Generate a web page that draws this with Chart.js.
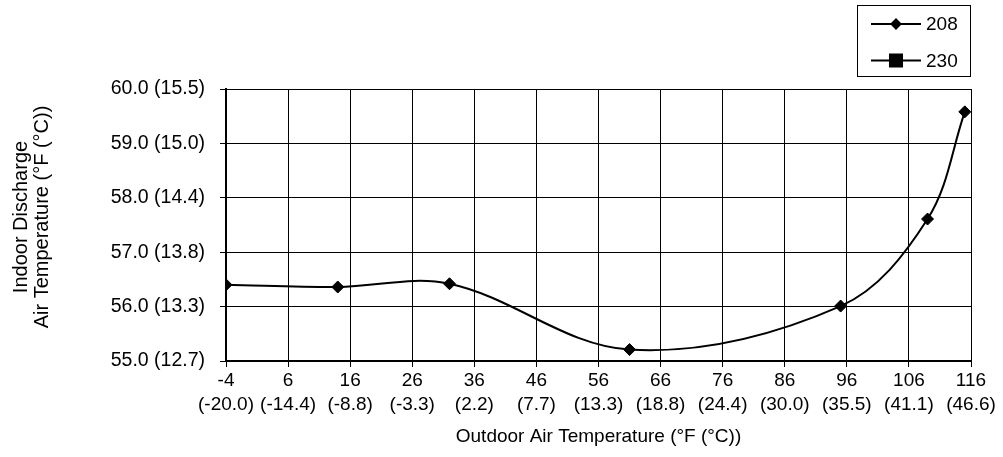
<!DOCTYPE html>
<html>
<head>
<meta charset="utf-8">
<script src="https://cdn.jsdelivr.net/npm/chart.js@4.4.1/dist/chart.umd.min.js"></script>
<style>
  html, body { margin: 0; padding: 0; background: #fff; }
  #wrap { width: 1003px; height: 457px; }
</style>
</head>
<body>
<div id="wrap"><canvas id="dischargeChart" width="1003" height="457"></canvas></div>
<script>
// outdoor air temp (F) vs indoor discharge temp (F)
const outdoorTemps = [-4, 14, 32, 61, 95, 109, 115];
const discharge208 = [56.40, 56.36, 56.42, 55.21, 56.01, 57.61, 59.58];
const outdoor230 = [];
const discharge230 = [];

const xTicksF = [-4, 6, 16, 26, 36, 46, 56, 66, 76, 86, 96, 106, 116];
const xTicksC = ["-20.0", "-14.4", "-8.8", "-3.3", "2.2", "7.7", "13.3", "18.8", "24.4", "30.0", "35.5", "41.1", "46.6"];
const yTicksF = [55, 56, 57, 58, 59, 60];
const yTicksC = ["12.7", "13.3", "13.8", "14.4", "15.0", "15.5"];
const yTitleLines = ["Indoor Discharge", "Air Temperature (°F (°C))"];

const fontFamily = "'Liberation Sans', Arial, sans-serif";

function toPoints(xs, ys) {
  return xs.map((x, i) => ({ x: x, y: ys[i] }));
}

// boxed legend in the top right corner + the y title (sits a bit above centre in the original)
const extras = {
  id: "extras",
  afterDraw(chart) {
    const ctx = chart.ctx;
    ctx.save();
    ctx.strokeStyle = "#000";
    ctx.fillStyle = "#000";
    ctx.lineWidth = 1;
    ctx.strokeRect(857.5, 5.5, 113, 71);
    chart.data.datasets.forEach(function (ds, i) {
      const y = 24 + i * 36.5;
      ctx.lineWidth = 2;
      ctx.beginPath();
      ctx.moveTo(871, y);
      ctx.lineTo(921, y);
      ctx.stroke();
      Chart.helpers.drawPoint(ctx, {
        pointStyle: ds.pointStyle,
        radius: i === 0 ? 4.5 : 8.5,
        borderWidth: 1,
      }, 896, y);
      ctx.font = "19px " + fontFamily;
      ctx.textBaseline = "middle";
      ctx.textAlign = "left";
      ctx.fillText(ds.label, 926, y + 1);
    });

    ctx.translate(0, 217);
    ctx.rotate(-Math.PI / 2);
    ctx.font = "20px " + fontFamily;
    ctx.textAlign = "center";
    ctx.textBaseline = "middle";
    yTitleLines.forEach(function (line, i) {
      ctx.fillText(line, 0, 21 + i * 21);
    });
    ctx.restore();
  },
};

const ctx = document.getElementById("dischargeChart").getContext("2d");
const chart = new Chart(ctx, {
  type: "scatter",
  data: {
    datasets: [
      {
        label: "208",
        data: toPoints(outdoorTemps, discharge208),
        showLine: true,
        tension: 0.35,
        borderColor: "#000",
        backgroundColor: "#000",
        borderWidth: 2,
        pointStyle: "rectRot",
        pointRadius: 6,
        pointBorderWidth: 1,
      },
      {
        label: "230",
        data: toPoints(outdoor230, discharge230),
        showLine: true,
        borderColor: "#000",
        backgroundColor: "#000",
        borderWidth: 2,
        pointStyle: "rect",
        pointRadius: 8,
      },
    ],
  },
  options: {
    responsive: false,
    animation: false,
    devicePixelRatio: 1,
    layout: {
      padding: { top: 89, right: 32, left: 0, bottom: 0 },
    },
    plugins: {
      legend: { display: false },
      tooltip: { enabled: false },
    },
    scales: {
      x: {
        type: "linear",
        min: -4,
        max: 116,
        afterBuildTicks: function (scale) {
          scale.ticks = xTicksF.map((v) => ({ value: v }));
        },
        afterFit: function (scale) {
          scale.height = 96;
        },
        ticks: {
          autoSkip: false,
          maxRotation: 0,
          padding: 2,
          color: "#000",
          font: { family: fontFamily, size: 19, lineHeight: 1.24 },
          callback: function (value, index) {
            return [String(value), "(" + xTicksC[index] + ")"];
          },
        },
        grid: {
          color: "#000",
          lineWidth: 1,
          tickLength: 6,
          tickColor: "#000",
        },
        border: { color: "#000", width: 2 },
        title: {
          display: true,
          text: "Outdoor Air Temperature (°F (°C))",
          color: "#000",
          font: { family: fontFamily, size: 19, lineHeight: 1.2 },
          padding: { top: 0, bottom: 8.6 },
        },
      },
      y: {
        min: 55,
        max: 60,
        afterBuildTicks: function (scale) {
          scale.ticks = yTicksF.map((v) => ({ value: v }));
        },
        afterFit: function (scale) {
          scale.width = 226;
        },
        ticks: {
          padding: 15,
          color: "#000",
          font: { family: fontFamily, size: 19.5 },
          callback: function (value, index) {
            return value.toFixed(1) + " (" + yTicksC[index] + ")";
          },
        },
        grid: {
          color: "#000",
          lineWidth: 1,
          tickLength: 6,
          tickColor: "#000",
        },
        border: { color: "#000", width: 2 },
        title: { display: false },
      },
    },
  },
  plugins: [extras],
});
</script>
</body>
</html>
